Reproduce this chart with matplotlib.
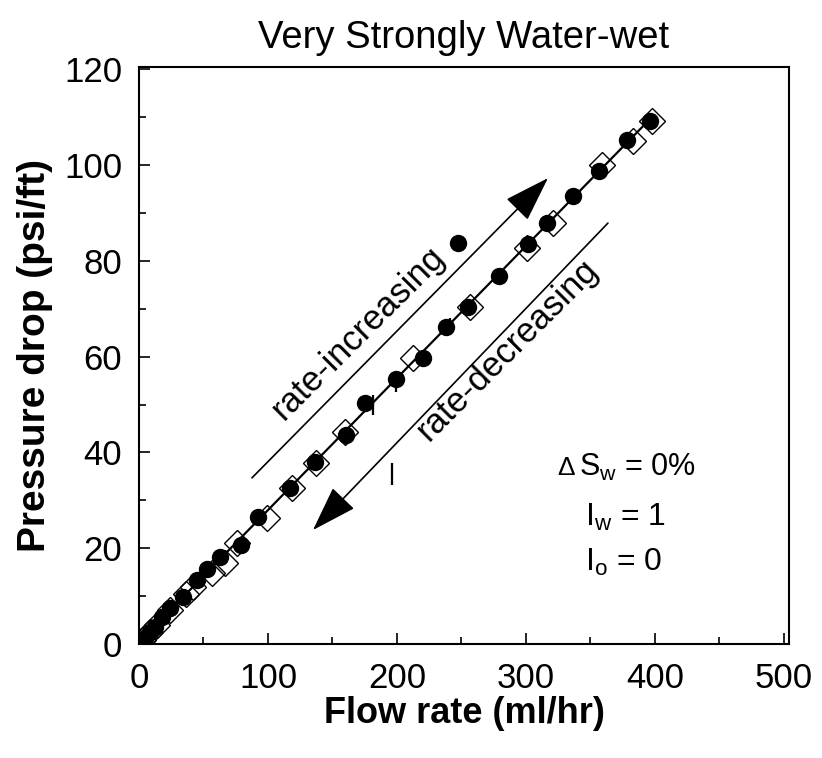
import matplotlib
matplotlib.use("Agg")
import matplotlib.pyplot as plt
import numpy as np

plt.rcParams['font.family'] = ['Liberation Sans', 'DejaVu Sans']
plt.rcParams['mathtext.fontset'] = 'custom'
plt.rcParams['mathtext.rm'] = 'Liberation Sans'
plt.rcParams['mathtext.it'] = 'Liberation Sans'
plt.rcParams['mathtext.bf'] = 'Liberation Sans:bold'

# rate-increasing (filled circles)
inc_x = [0.8, 4.7, 8.5, 12.4, 17.8, 24.0, 34.1, 44.9, 52.7, 62.8, 79.1, 92.2, 117.1,
         136.5, 160.5, 175.2, 199.3, 220.2, 238.0, 247.3, 255.1, 279.1, 301.6, 316.3,
         336.5, 356.7, 378.4, 396.2]
inc_y = [0.2, 1.3, 2.5, 3.6, 5.6, 7.5, 9.8, 13.4, 15.7, 18.2, 20.7, 26.5, 32.6,
         38.0, 43.7, 50.3, 55.3, 59.7, 66.2, 83.8, 70.4, 76.9, 83.5, 87.9,
         93.6, 98.8, 105.3, 109.2]

# rate-decreasing (open diamonds)
dec_x = [397.8, 383.0, 358.9, 320.9, 300.8, 256.6, 212.5, 159.7, 137.2, 118.6, 99.2,
         76.0, 66.7, 56.6, 41.9, 36.4, 24.0, 14.0, 8.5, 3.1]
dec_y = [109.2, 105.1, 100.0, 87.9, 82.6, 70.4, 59.7, 44.3, 37.8, 32.6, 26.3,
         21.1, 16.9, 14.8, 11.9, 10.4, 7.1, 4.0, 2.5, 0.8]

# short vertical error marks
err_x = [181.4, 199.3, 241.1, 279.1, 341.9, 196.2]
err_lo = [47.8, 52.6, 64.5, 75.0, 92.7, 33.2]
err_hi = [52.0, 55.3, 68.1, 78.5, 94.8, 37.8]

fig = plt.figure(figsize=(8.22, 7.58), dpi=100)
ax = fig.add_axes([139/822, (758-644)/758, (789-139)/822, (644-67)/758])

# fit line through increasing data (excluding the outlier)
fx = np.array(inc_x)
fy = np.array(inc_y)
mask = np.abs(fy - 0.275*fx) < 8
p = np.polyfit(fx[mask], fy[mask], 1)
lx = np.array([min(inc_x) - 2, max(dec_x)])
ax.plot(lx, np.polyval(p, lx), color='black', lw=1.6, zorder=2)

ax.vlines(err_x, err_lo, err_hi, color='black', lw=1.6, zorder=2)

ax.plot(dec_x, dec_y, linestyle='none', marker='D', markersize=13.5,
        markerfacecolor='none', markeredgecolor='black', markeredgewidth=1.0, zorder=3)
ax.plot(inc_x, inc_y, linestyle='none', marker='o', markersize=11.5,
        color='black', zorder=4)

# arrows
ax.annotate('', xy=(317.1, 97.3), xytext=(87.6, 34.7),
            arrowprops=dict(arrowstyle='-|>,head_length=1.45,head_width=0.48',
                            mutation_scale=20, color='black', lw=1.2, shrinkA=0, shrinkB=0))
ax.annotate('', xy=(134.9, 23.8), xytext=(363.6, 87.9),
            arrowprops=dict(arrowstyle='-|>,head_length=1.45,head_width=0.48',
                            mutation_scale=20, color='black', lw=1.2, shrinkA=0, shrinkB=0))
ax.text(169.8, 65.0, 'rate-increasing', rotation=45, rotation_mode='anchor',
        ha='center', va='center', fontsize=25)
ax.text(285.3, 61.4, 'rate-decreasing', rotation=45, rotation_mode='anchor',
        ha='center', va='center', fontsize=25)

ax.text(324, 35.2, '\u0394', ha='left', va='baseline', fontsize=19)
ax.text(341, 35.2, r'S$_{\mathrm{w}}$ = 0%', ha='left', va='baseline', fontsize=22)
ax.text(345.8, 24.7, r'I$_{\mathrm{w}}$ = 1', ha='left', va='baseline', fontsize=23)
ax.text(345.8, 15.3, r'I$_{\mathrm{o}}$ = 0', ha='left', va='baseline', fontsize=23)

ax.set_xlim(0, 504)
ax.set_ylim(0, 120.5)
ax.set_xticks([0, 100, 200, 300, 400, 500])
ax.set_yticks([0, 20, 40, 60, 80, 100, 120])
ax.set_xticks([50, 150, 250, 350, 450], minor=True)
ax.set_yticks([10, 30, 50, 70, 90, 110], minor=True)
ax.tick_params(which='both', direction='in', top=False, right=False, labelsize=25,
               width=1.2)
ax.tick_params(which='major', length=8)
ax.tick_params(which='minor', length=5)
ax.tick_params(axis='x', which='major', pad=13)
ax.tick_params(axis='y', which='major', pad=12)
for s in ax.spines.values():
    s.set_linewidth(1.5)

ax.set_title('Very Strongly Water-wet', fontsize=27.5, pad=14)
ax.set_xlabel('Flow rate (ml/hr)', fontsize=26, fontweight='bold', labelpad=1)
ax.set_ylabel('Pressure drop (psi/ft)', fontsize=28, fontweight='bold', labelpad=8)

fig.savefig('out.png', dpi=100)
